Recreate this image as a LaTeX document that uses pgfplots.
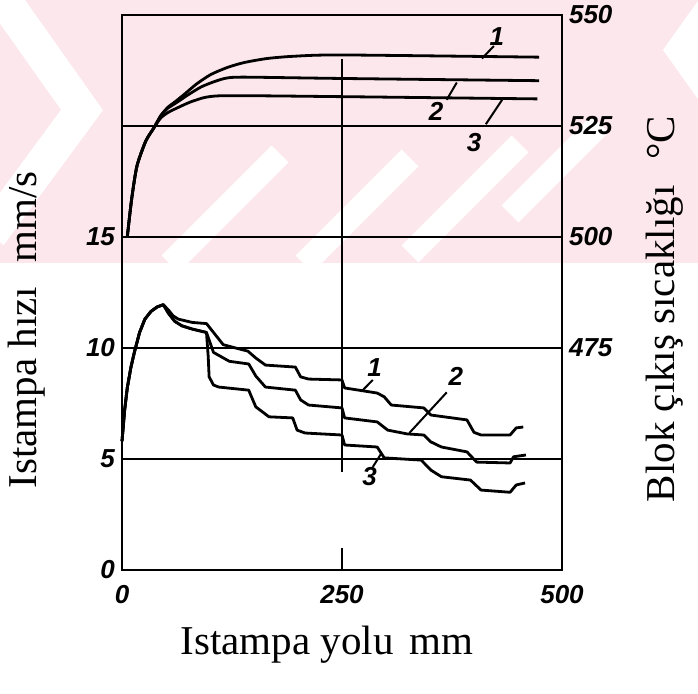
\documentclass[border=0pt]{standalone}
\usepackage{pgfplots}
\pgfplotsset{compat=1.18}
\usepackage{fontspec}
\setmainfont{Liberation Serif}
\newfontfamily\tickfont{Liberation Sans}
\definecolor{wm}{RGB}{252,231,236}
\newcommand{\tf}{\tickfont\fontsize{13}{15}\selectfont\bfseries\itshape}
\tikzset{cv/.style={black, line width=1.4pt, line join=round, mark=none}}
\begin{document}
\begin{tikzpicture}
\useasboundingbox (0pt,0pt) rectangle (349pt,347pt);
% watermark background
\begin{scope}
\clip (0pt,215.5pt) rectangle (349pt,347pt);
\fill[wm] (0pt,215.5pt) rectangle (349pt,347pt);
\draw[white, line width=17pt] (-5pt,357pt)--(41pt,292pt)--(-5pt,229.5pt);
\fill[white] (331.5pt,322pt)--(360pt,362pt)--(360pt,282pt)--cycle;
\draw[white, line width=12pt] (85pt,215pt)--(140pt,270pt);
\draw[white, line width=12pt] (152pt,215pt)--(205pt,268pt);
\draw[white, line width=12pt] (205pt,220pt)--(260pt,275pt);
\draw[white, line width=12pt] (255pt,240pt)--(300pt,285pt);
\end{scope}

\begin{axis}[
  at={(61pt,62pt)}, anchor=south west, scale only axis,
  width=220pt, height=277.5pt,
  xmin=0, xmax=500, ymin=0, ymax=25,
  axis line style={line width=1pt},
  xtick={0,250,500}, xtick pos=left, tick align=inside,
  major tick length=11pt,
  x tick style={line width=1pt, black},
  ytick={0,5,10,15}, ytick pos=left,
  ytick style={draw=none},
  ymajorgrids, grid style={line width=0.8pt, black},
  /pgf/number format/assume math mode=true,
  xticklabel style={font=\tf, yshift=-4pt},
  yticklabel style={font=\tf},
  clip=false,
]
% vertical reference line
\addplot[black, line width=1pt, mark=none] coordinates {(250,4.4) (250,23)};
% speed curve 1
\addplot[cv] coordinates {
(0,5.8) (3,7.2) (6,8.2) (10,9.1) (14,9.8) (20,10.7) (26,11.3) (33,11.65) (40,11.85) (47,11.95)
(53,11.7) (58,11.45) (64,11.3) (80,11.15) (96,11.1)
(104,10.7) (115,10.15) (129,10.0) (143,9.86) (152,9.55) (163,9.23) (197,9.14) (203,8.7) (212,8.6) (250,8.56)
(253,8.2) (290,7.97) (298,7.8) (306,7.43) (343,7.3) (351,6.98) (392,6.76) (400,6.2) (408,6.08) (441,6.08) (448,6.4) (456,6.44)};
% speed curve 2
\addplot[cv] coordinates {
(0,5.8) (3,7.2) (6,8.2) (10,9.1) (14,9.8) (20,10.7) (26,11.3) (33,11.65) (40,11.85) (47,11.95)
(53,11.55) (60,11.2) (68,11.0) (80,10.85) (96,10.7)
(99,10.36) (104,9.8) (122,9.4) (144,9.28) (152,8.74) (163,8.24) (197,8.1) (203,7.66) (212,7.43) (250,7.3)
(253,6.85) (290,6.67) (302,6.3) (324,6.13) (343,6.08) (351,5.77) (363,5.54) (392,5.32) (403,4.86) (441,4.82) (445,5.1) (459,5.18)};
% speed curve 3
\addplot[cv] coordinates {
(0,5.8) (3,7.2) (6,8.2) (10,9.1) (14,9.8) (20,10.7) (26,11.3) (33,11.65) (40,11.85) (47,11.95)
(53,11.55) (60,11.2) (68,11.0) (80,10.85) (96,10.7)
(98,9.6) (99,8.7) (104,8.33) (110,8.24) (144,8.1) (152,7.35) (167,6.9) (194,6.85) (199,6.3) (208,6.17) (250,6.08)
(253,5.63) (290,5.54) (298,5.05) (340,4.95) (351,4.5) (363,4.2) (396,4.05) (408,3.6) (441,3.5) (448,3.83) (458,3.92)};
% curve labels (speed)
\node[font=\tf] at (axis cs:287,9.1) {1};
\draw[line width=1pt] (axis cs:273.6,8.1) -- (axis cs:285,8.56);
\node[font=\tf] at (axis cs:379.5,8.7) {2};
\draw[line width=1pt] (axis cs:326.5,6.17) -- (axis cs:369,8.0);
\node[font=\tf] at (axis cs:281.5,4.2) {3};
\draw[line width=1pt] (axis cs:285,4.64) -- (axis cs:295,5.27);
\end{axis}

\begin{axis}[
  at={(61pt,62pt)}, anchor=south west, scale only axis,
  width=220pt, height=277.5pt,
  xmin=0, xmax=500, ymin=425, ymax=550,
  axis x line=none, axis y line*=right,
  axis line style={line width=1pt},
  ytick={475,500,525,550},
  ytick style={draw=none},
  ymajorgrids, grid style={line width=0.8pt, black},
  /pgf/number format/assume math mode=true,
  yticklabel style={font=\tf},
  clip=false,
]
% temperature curve 1
\addplot[cv, smooth, tension=0.4] coordinates {
(6,500) (11,508.6) (17,516) (27,521.6) (36,524.5) (44,527.3) (52,529.2) (60,530.4) (70,532) (85,534.5) (101,536.6) (120,538.2) (139,539.3) (165,540.2) (195,540.7) (249,541) (474,540.5)};
% temperature curve 2
\addplot[cv, smooth, tension=0.4] coordinates {
(6,500) (11,508.6) (17,516) (27,521.6) (36,524.5) (44,527.3) (52,529) (60,530) (75,532) (90,533.8) (105,535) (119,535.8) (140,536) (250,535.7) (474,535.2)};
% temperature curve 3
\addplot[cv, smooth, tension=0.4] coordinates {
(6,500) (11,508.6) (17,516) (27,521.6) (36,524.5) (44,526.8) (52,528) (62,529) (82,530.7) (112,531.8) (252,531.6) (472,531.1)};
% curve labels (temperature)
\node[font=\tf] at (axis cs:426,545.2) {1};
\draw[line width=1pt] (axis cs:409,540.2) -- (axis cs:422.6,543);
\node[font=\tf] at (axis cs:357,528.3) {2};
\draw[line width=1pt] (axis cs:380.5,534.8) -- (axis cs:369,530.9);
\node[font=\tf] at (axis cs:400,521.3) {3};
\draw[line width=1pt] (axis cs:432,530.9) -- (axis cs:413.5,525.4);
\end{axis}

\node[rotate=90, font=\fontsize{20.5}{24}\selectfont] at (13.5pt,182pt) {Istampa hızı\hspace{12pt}mm/s};
\node[rotate=90, font=\fontsize{20.5}{24}\selectfont] at (332.5pt,192.5pt) {Blok çıkış sıcaklığı\hspace{13pt}°C};
\node[font=\fontsize{20.5}{24}\selectfont] at (163.5pt,24.5pt) {Istampa yolu\hspace{8pt}mm};
\end{tikzpicture}
\end{document}
